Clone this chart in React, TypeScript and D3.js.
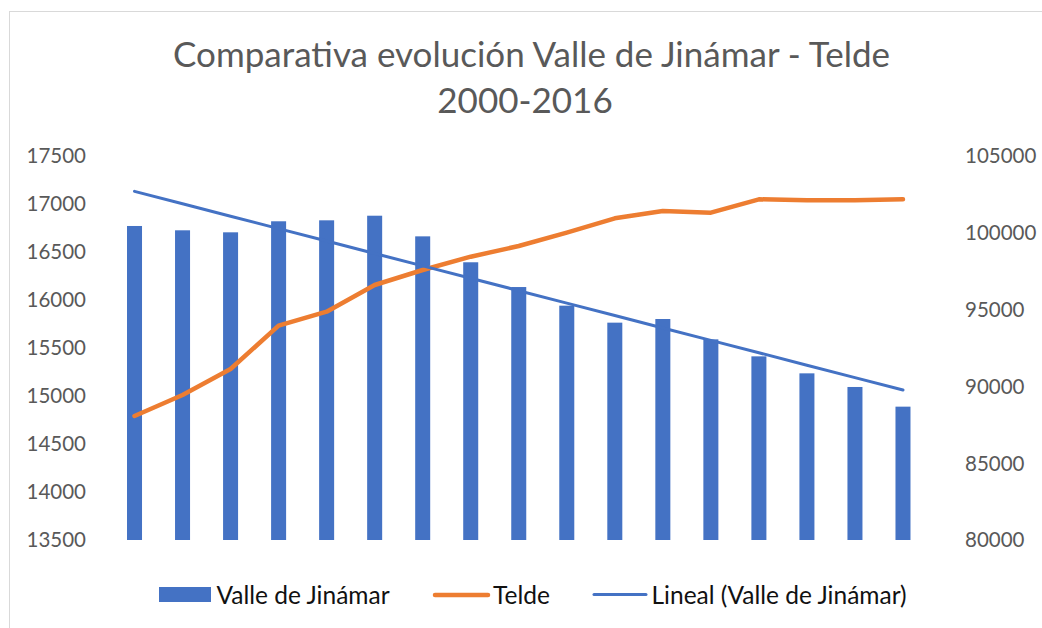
import React from "react";
import * as d3 from "d3";

const years = ["2000","2001","2002","2003","2004","2005","2006","2007","2008","2009","2010","2011","2012","2013","2014","2015","2016"];
const jinamar = [16771,16726,16705,16820,16830,16878,16663,16393,16135,15941,15764,15802,15590,15413,15236,15094,14889];
const telde = [88073,89440,91133,93952,94865,96602,97578,98445,99141,100007,100944,101419,101309,102181,102116,102116,102181];
const leftTicks = [13500,14000,14500,15000,15500,16000,16500,17000,17500];
const rightTicks = [80000,85000,90000,95000,100000,105000];
const titleLines = ["Comparativa evolución Valle de Jinámar - Telde", "2000-2016"];
const legendLabels = ["Valle de Jinámar", "Telde", "Lineal (Valle de Jinámar)"];

const W = 1042, H = 628;
const BLUE = "#4472C4", ORANGE = "#ED7D31", GREY = "#595959";
const FONT = "Lato, 'Open Sans', sans-serif";

export default function App() {
  const x = d3.scaleBand<string>().domain(years).range([110.5, 927]).paddingInner(0.6875).paddingOuter(0.34375);
  const yL = d3.scaleLinear().domain([13500, 17500]).range([540, 156]);
  const yR = d3.scaleLinear().domain([80000, 105000]).range([540, 156]);
  const cx = (y: string) => (x(y) as number) + x.bandwidth() / 2;

  const idx = years.map((_, i) => i);
  const mx = d3.mean(idx) as number;
  const my = d3.mean(jinamar) as number;
  const slope = (d3.sum(idx, (i) => (i - mx) * (jinamar[i] - my)) as number) / (d3.sum(idx, (i) => (i - mx) ** 2) as number);
  const icpt = my - slope * mx;
  const trend = years.map((yr, i) => [cx(yr), yL(icpt + slope * i)] as [number, number]);

  const teldeLine = d3.line<number>().x((_, i) => cx(years[i])).y((d) => yR(d))(telde) as string;
  const trendLine = d3.line()(trend) as string;

  return (
    <div style={{ position: "absolute", left: 0, top: 0 }}>
      <svg width={W} height={H} style={{ display: "block", background: "#fff" }}>
        <rect x={9.5} y={11.5} width={1040} height={640} fill="#fff" stroke="#d9d9d9" strokeWidth={1} />
        <g fontFamily={FONT} fill={GREY} textAnchor="middle" fontWeight={400}>
          <text x={531.5} y={67} fontSize={35}>{titleLines[0]}</text>
          <text x={525} y={113} fontSize={35}>{titleLines[1]}</text>
        </g>
        <g fontFamily={FONT} fill={GREY} fontSize={20.5}>
          {leftTicks.map((t) => (
            <text key={t} x={86} y={yL(t)} dy="0.36em" textAnchor="end">{t}</text>
          ))}
          {rightTicks.map((t) => (
            <text key={t} x={965} y={yR(t)} dy="0.36em" textAnchor="start">{t}</text>
          ))}
        </g>
        <g fill={BLUE}>
          {years.map((yr, i) => (
            <rect key={yr} x={x(yr)} y={yL(jinamar[i])} width={x.bandwidth()} height={yL(13500) - yL(jinamar[i])} />
          ))}
        </g>
        <path d={teldeLine} fill="none" stroke={ORANGE} strokeWidth={4.5} strokeLinejoin="round" strokeLinecap="round" />
        <path d={trendLine} fill="none" stroke={BLUE} strokeWidth={3} strokeLinecap="round" />
        <g fontFamily={FONT} fill="#111" fontSize={24.5}>
          <rect x={159} y={587} width={52} height={15} fill={BLUE} />
          <text x={216.5} y={603.5}>{legendLabels[0]}</text>
          <line x1={435} x2={488} y1={595} y2={595} stroke={ORANGE} strokeWidth={4.5} strokeLinecap="round" />
          <text x={493} y={603.5}>{legendLabels[1]}</text>
          <line x1={594} x2={646} y1={594.5} y2={594.5} stroke={BLUE} strokeWidth={3} strokeLinecap="round" />
          <text x={651.5} y={603.5}>{legendLabels[2]}</text>
        </g>
      </svg>
    </div>
  );
}
